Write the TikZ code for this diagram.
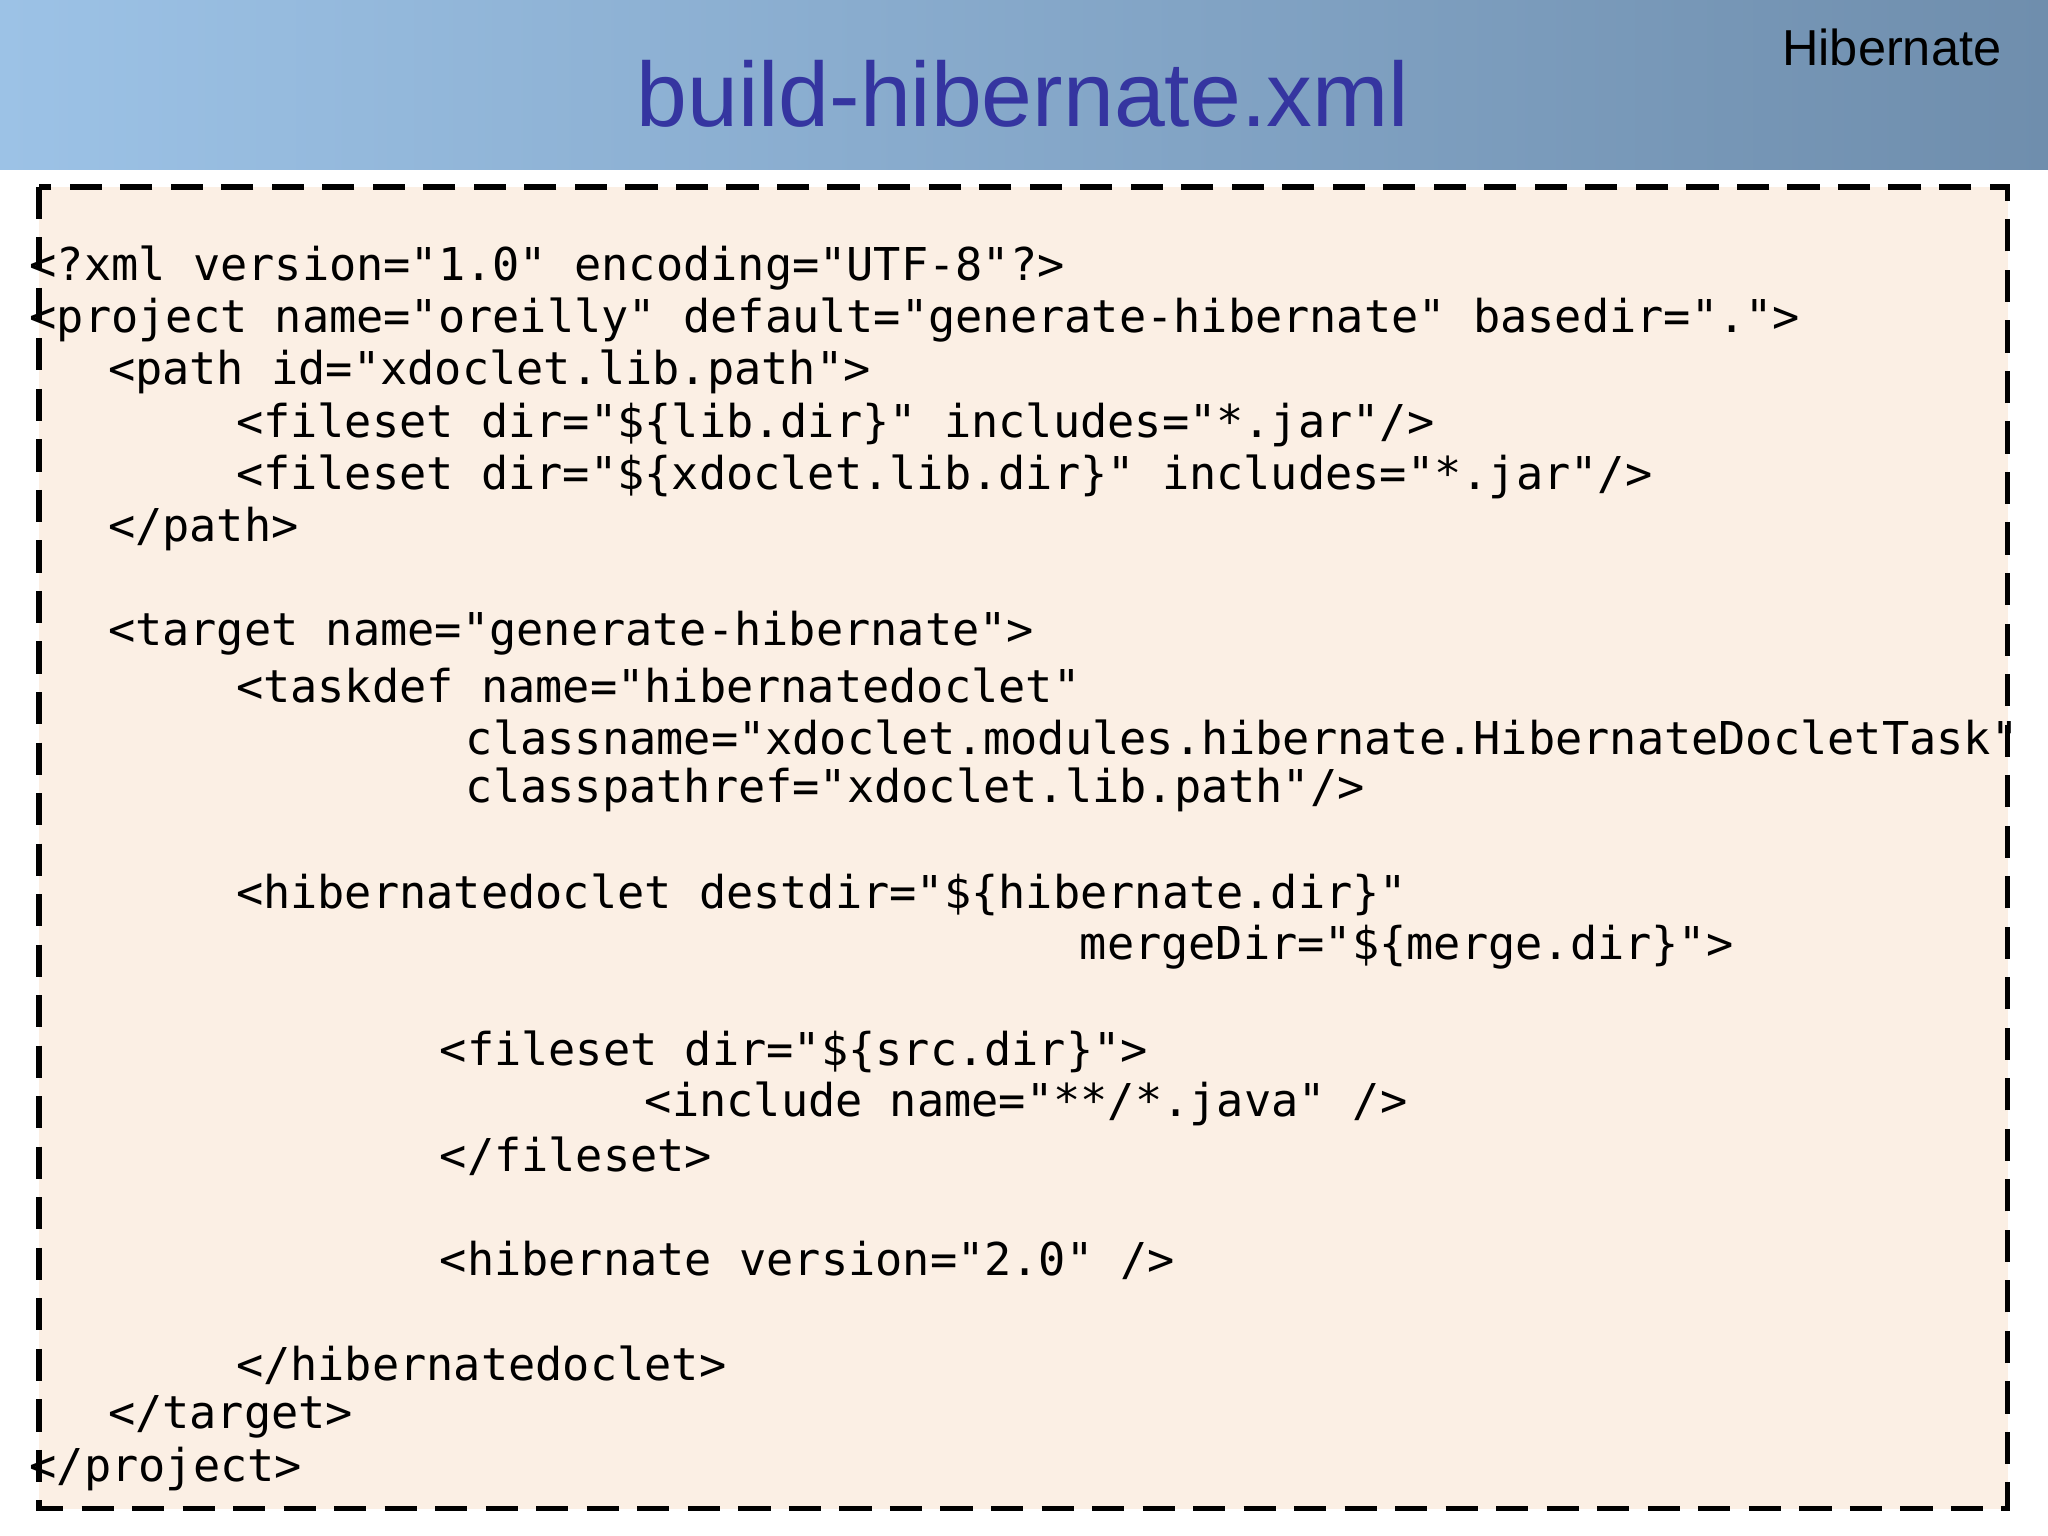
\documentclass[tikz,border=0pt]{standalone}
\usepackage{fontspec}
\setmainfont{Liberation Sans}
\setmonofont{DejaVu Sans Mono}
\definecolor{hdrL}{HTML}{9CC2E6}
\definecolor{hdrR}{HTML}{6F8EAD}
\definecolor{ttl}{HTML}{3535A0}
\definecolor{boxbg}{HTML}{FBEFE4}
\tikzset{code/.style={anchor=west,inner sep=0pt,font=\ttfamily\fontsize{9.85pt}{11pt}\selectfont}}
\begin{document}
\begin{tikzpicture}[x=0.01cm,y=-0.01cm]
\useasboundingbox (0,0) rectangle (1568,1176);
\fill[white] (0,0) rectangle (1568,1176);
\shade[left color=hdrL,right color=hdrR] (0,0) rectangle (1568,130);
\node[font=\fontsize{19.9pt}{23pt}\selectfont,text=ttl] (title) at (783,72) {build-hibernate.xml};
\node[font=\fontsize{11pt}{13pt}\selectfont,anchor=east,inner sep=0pt] (sec) at (1533,36) {Hibernate};
\draw[fill=boxbg,line width=1.2pt,dash pattern=on 7pt off 4pt] (30,143) rectangle (1537,1155);
\node[code] (l1) at (22,205) {<?xml version="1.0" encoding="UTF-8"?>};
\node[code] (l2) at (22,245) {<project name="oreilly" default="generate-hibernate" basedir=".">};
\node[code] (l3) at (82,285) {<path id="xdoclet.lib.path">};
\node[code] (l4) at (180,325) {<fileset dir="\$\{lib.dir\}" includes="*.jar"/>};
\node[code] (l5) at (180,365) {<fileset dir="\$\{xdoclet.lib.dir\}" includes="*.jar"/>};
\node[code] (l6) at (82,405) {</path>};
\node[code] (l7) at (82,485) {<target name="generate-hibernate">};
\node[code] (l8) at (180,525) {<taskdef name="hibernatedoclet"};
\node[code] (l9) at (356,565) {classname="xdoclet.modules.hibernate.HibernateDocletTask"};
\node[code] (l10) at (356,605) {classpathref="xdoclet.lib.path"/>};
\node[code] (l11) at (180,685) {<hibernatedoclet destdir="\$\{hibernate.dir\}"};
\node[code] (l12) at (826,725) {mergeDir="\$\{merge.dir\}">};
\node[code] (l13) at (336,805) {<fileset dir="\$\{src.dir\}">};
\node[code] (l14) at (493,845) {<include name="**/*.java" />};
\node[code] (l15) at (336,885) {</fileset>};
\node[code] (l16) at (336,965) {<hibernate version="2.0" />};
\node[code] (l17) at (180,1045) {</hibernatedoclet>};
\node[code] (l18) at (82,1085) {</target>};
\node[code] (l19) at (22,1125) {</project>};
\end{tikzpicture}
\end{document}
